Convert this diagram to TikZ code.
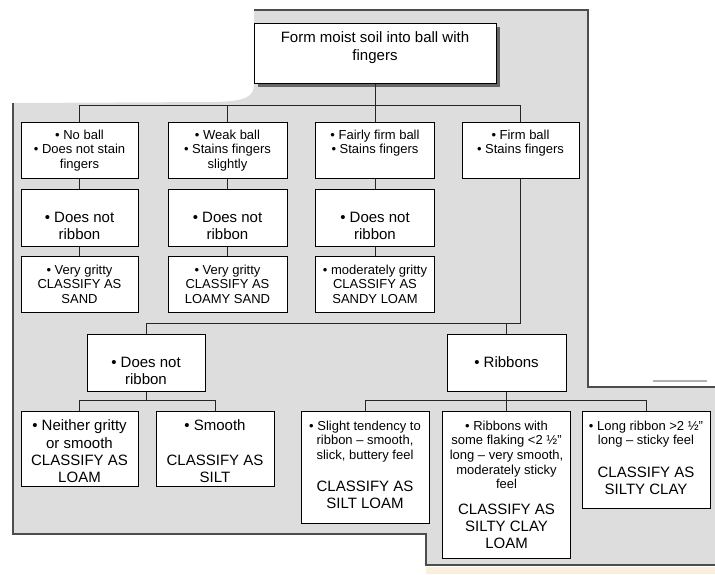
\documentclass[tikz,border=0pt]{standalone}
\usepackage{fontspec}
\setmainfont{Liberation Sans}
\usetikzlibrary{shadows}
\definecolor{panelgray}{HTML}{DDDDDD}
\definecolor{edgegray}{HTML}{4D4D4D}
\definecolor{scanbeige}{HTML}{FBEEDB}
\newcommand{\smalltxt}{\fontsize{13}{14.7}\selectfont}
\newcommand{\bigtxt}{\fontsize{15}{17.2}\selectfont}
\newcommand{\cell}[4]{\parbox[c][#2pt][t]{#1pt}{\centering\vspace*{#3pt}#4}}
\tikzset{
    soilbox/.style={draw=black, fill=white, line width=0.8pt, inner sep=0pt, anchor=north},
    startbox/.style={soilbox, drop shadow={shadow xshift=3.5pt, shadow yshift=-3.5pt, fill=black!60, opacity=1}},
    link/.style={draw=black!85, line width=0.8pt},
    edge/.style={draw=edgegray, line width=1.2pt},
}

\begin{document}
\begin{tikzpicture}[x=1pt,y=-1pt]
    \useasboundingbox (0,0) rectangle (715,574);
    % Gray panel behind the chart
    \fill[panelgray] (254,10) -- (588,10) -- (588,387) -- (715,387) -- (715,565) -- (426,565)
        -- (426,534) -- (13,534) -- (13,103) -- (215,102) .. controls (246,101) and (254,97) .. (254,84) -- cycle;
    \draw[edge] (254,10) -- (588,10) -- (588,387) -- (715,387);
    \draw[edge] (13,103) -- (13,534) -- (426,534) -- (426,565) -- (715,565);
    \draw[black!30, line width=1.5pt] (653,381) -- (707,381);
    \fill[scanbeige] (426,567) rectangle (715,574);

    % Ball test
    \node[startbox] (ball) at (375,23) {\cell{242}{60}{8.6}{\bigtxt Form moist soil into ball with\\ fingers}};

    % First row: how the ball holds
    \node[soilbox] (noball) at (79.5,122) {\cell{117}{56}{7.3}{\smalltxt • No ball\\ • Does not stain\\ fingers}};
    \node[soilbox] (weakball) at (227.5,122) {\cell{119}{56}{7.3}{\smalltxt • Weak ball\\ • Stains fingers\\ slightly}};
    \node[soilbox] (fairball) at (375,122) {\cell{119}{56}{7.3}{\smalltxt • Fairly firm ball\\ • Stains fingers}};
    \node[soilbox] (firmball) at (520.5,122) {\cell{117}{56}{7.3}{\smalltxt • Firm ball\\ • Stains fingers}};

    % Second row: no ribbon
    \node[soilbox] (noribA) at (79.5,189) {\cell{117}{57}{22.6}{\bigtxt • Does not\\ ribbon}};
    \node[soilbox] (noribB) at (227.5,189) {\cell{119}{57}{22.6}{\bigtxt • Does not\\ ribbon}};
    \node[soilbox] (noribC) at (375,189) {\cell{119}{57}{22.6}{\bigtxt • Does not\\ ribbon}};

    % Third row: classes
    \node[soilbox] (sand) at (79.5,256) {\cell{117}{56}{8.3}{\smalltxt • Very gritty\\ CLASSIFY AS\\ SAND}};
    \node[soilbox] (loamysand) at (227.5,256) {\cell{119}{56}{8.3}{\smalltxt • Very gritty\\ CLASSIFY AS\\ LOAMY SAND}};
    \node[soilbox] (sandyloam) at (375,256) {\cell{119}{56}{8.3}{\smalltxt • moderately gritty\\ CLASSIFY AS\\ SANDY LOAM}};

    % Firm ball: ribbon test
    \node[soilbox] (norib) at (146,334) {\cell{118}{57}{22.6}{\bigtxt • Does not\\ ribbon}};
    \node[soilbox] (ribbons) at (506.5,334) {\cell{119}{57}{22.6}{\bigtxt • Ribbons}};

    \node[soilbox] (loam) at (79.5,411) {\cell{117}{75}{8.6}{\bigtxt • Neither gritty\\ or smooth\\ CLASSIFY AS\\ LOAM}};
    \node[soilbox] (silt) at (215,411) {\cell{118}{75}{8.6}{\bigtxt • Smooth\\[17.2pt] CLASSIFY AS\\ SILT}};

    \node[soilbox] (siltloam) at (365,411) {\cell{128}{112}{9.3}{\smalltxt • Slight tendency to\\ ribbon – smooth,\\ slick, buttery feel\par
        \vspace{14.3pt}\bigtxt CLASSIFY AS\\ SILT LOAM}};
    \node[soilbox] (siltyclayloam) at (506.5,411) {\cell{128}{147}{9.3}{\smalltxt • Ribbons with\\ some flaking <2 ½”\\ long – very smooth,\\ moderately sticky\\ feel\par
        \vspace{8.3pt}\bigtxt CLASSIFY AS\\ SILTY CLAY\\ LOAM}};
    \node[soilbox] (siltyclay) at (646,411) {\cell{128}{97}{9.3}{\smalltxt • Long ribbon >2 ½”\\ long – sticky feel\par
        \vspace{15.3pt}\bigtxt CLASSIFY AS\\ SILTY CLAY}};

    % Connectors
    \draw[link] (fairball.north) -- (ball.south);
    \draw[link] (noball.north) -- ++(0,-17) -| (firmball.north);
    \draw[link] (weakball.north) -- ++(0,-17);
    \draw[link] (noball) -- (noribA) -- (sand);
    \draw[link] (weakball) -- (noribB) -- (loamysand);
    \draw[link] (fairball) -- (noribC) -- (sandyloam);
    \draw[link] (firmball.south) -- ++(0,145) -| (norib.north);
    \draw[link] (ribbons.north) -- ++(0,-11);
    \draw[link] (norib.south) -- ++(0,9);
    \draw[link] (loam.north) -- ++(0,-11) -| (silt.north);
    \draw[link] (siltloam.north) -- ++(0,-11) -| (siltyclay.north);
    \draw[link] (ribbons) -- (siltyclayloam);
\end{tikzpicture}
\end{document}
